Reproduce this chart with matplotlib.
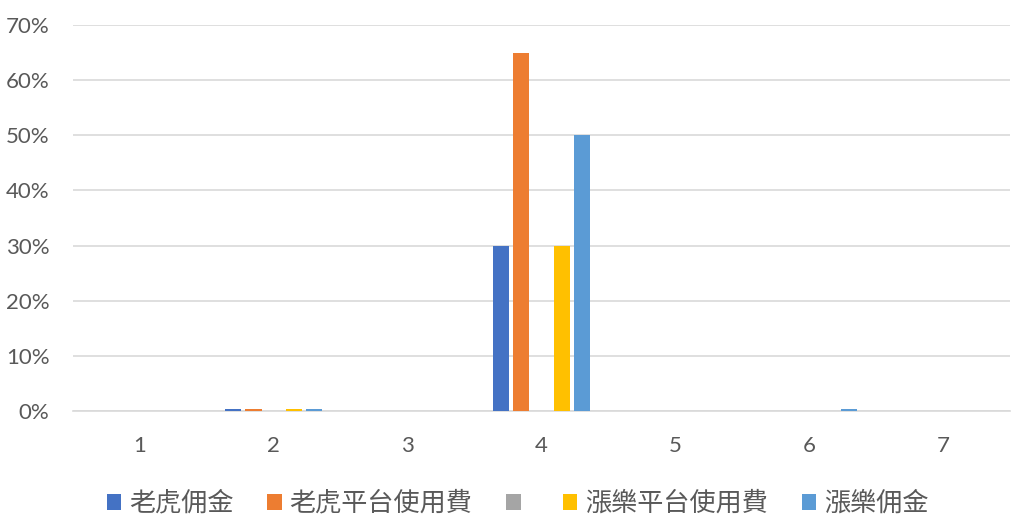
import matplotlib
matplotlib.use("Agg")
import matplotlib.pyplot as plt
import numpy as np
from matplotlib.ticker import FuncFormatter

plt.rcParams['font.family'] = ['Noto Sans CJK TC', 'DejaVu Sans']

categories = ["1", "2", "3", "4", "5", "6", "7"]
series_names = ["老虎佣金", "老虎平台使用費", "", "漲樂平台使用費", "漲樂佣金"]
tiger_commission = [0, 0.003, 0, 0.30, 0, 0, 0]
tiger_platform = [0, 0.003, 0, 0.65, 0, 0, 0]
gray_series = [0, 0, 0, 0, 0, 0, 0]
zhangle_platform = [0, 0.003, 0, 0.30, 0, 0, 0]
zhangle_commission = [0, 0.003, 0, 0.50, 0, 0.003, 0]
colors = ["#4472C4", "#ED7D31", "#A5A5A5", "#FFC000", "#5B9BD5"]

all_series = [tiger_commission, tiger_platform, gray_series, zhangle_platform, zhangle_commission]

fig = plt.figure(figsize=(10.24, 5.31), dpi=100)
ax = fig.add_axes([0.0713, 0.226, 0.9147, 0.727])

x = np.arange(len(categories))
slot = 0.151
width = 0.12
handles = []
for i, (vals, name, col) in enumerate(zip(all_series, series_names, colors)):
    h = ax.bar(x + (i - 2) * slot, vals, width=width, color=col, zorder=3)
    handles.append(h)

ax.set_xlim(-0.5, len(categories) - 0.5)
ax.set_ylim(0, 0.70)
ax.set_yticks(np.arange(0, 0.71, 0.10))
ax.yaxis.set_major_formatter(FuncFormatter(lambda v, p: f"{v*100:.0f}%"))
ax.set_xticks(x)
ax.set_xticklabels(categories)
ax.grid(axis='y', color='#D9D9D9', linewidth=1.2, zorder=0)
for s in ['top', 'right', 'left']:
    ax.spines[s].set_visible(False)
ax.spines['bottom'].set_color('#D9D9D9')
ax.spines['bottom'].set_linewidth(1.2)
ax.tick_params(axis='both', length=0, colors='#595959', labelsize=16)
ax.tick_params(axis='x', pad=18)
ax.tick_params(axis='y', pad=17)
for lab in ax.get_xticklabels() + ax.get_yticklabels():
    lab.set_family(['Lato', 'DejaVu Sans'])

leg = fig.legend(handles, series_names, loc='center', bbox_to_anchor=(0.5054, 0.052), ncol=5,
                 frameon=False, fontsize=18.8, handlelength=0.55, handleheight=0.55,
                 handletextpad=0.3, columnspacing=1.3)
for t in leg.get_texts():
    t.set_color('#595959')

fig.savefig("out.png", dpi=100)
